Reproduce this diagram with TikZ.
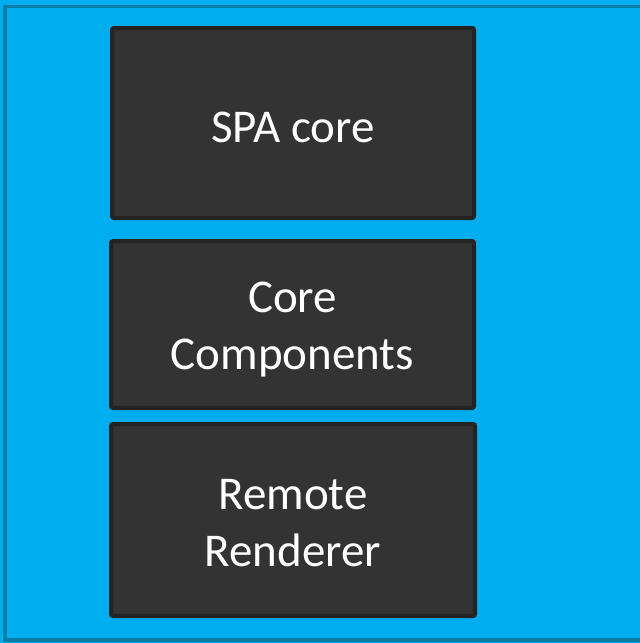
\documentclass[tikz,border=0pt]{standalone}
\usepackage{fontspec}
\setmainfont{Carlito}
\definecolor{bgblue}{HTML}{00ADEF}
\definecolor{bgedge}{HTML}{087DA8}
\definecolor{boxfill}{HTML}{333333}
\definecolor{boxedge}{HTML}{232323}
\tikzset{
  layer/.style={draw=boxedge, fill=boxfill, line width=4pt, rounded corners=2pt, inner sep=0pt},
  layertext/.style={text=white, align=center, font=\fontsize{47}{57.5}\selectfont, inner sep=0pt},
}
\begin{document}
\begin{tikzpicture}[x=1pt,y=-1pt]
\useasboundingbox (0,0) rectangle (640,643);
\fill[bgblue] (0,0) rectangle (640,643);
\draw[bgedge, line width=3.5pt, fill=bgblue] (5,6.5) rectangle (646,640);
\node[layer, minimum width=362pt, minimum height=190pt] (spa) at (293,123) {};
\node[layer, minimum width=363pt, minimum height=167pt] (core) at (292.5,324.5) {};
\node[layer, minimum width=364pt, minimum height=192pt] (rr) at (293,520) {};
\node[layertext] (spat) at ([yshift=-4pt]spa.center) {SPA core};
\node[layertext] (coret) at ([yshift=-5pt]core.center) {Core\\Components};
\node[layertext] (rrt) at ([yshift=-3pt]rr.center) {Remote\\Renderer};
\end{tikzpicture}
\end{document}
